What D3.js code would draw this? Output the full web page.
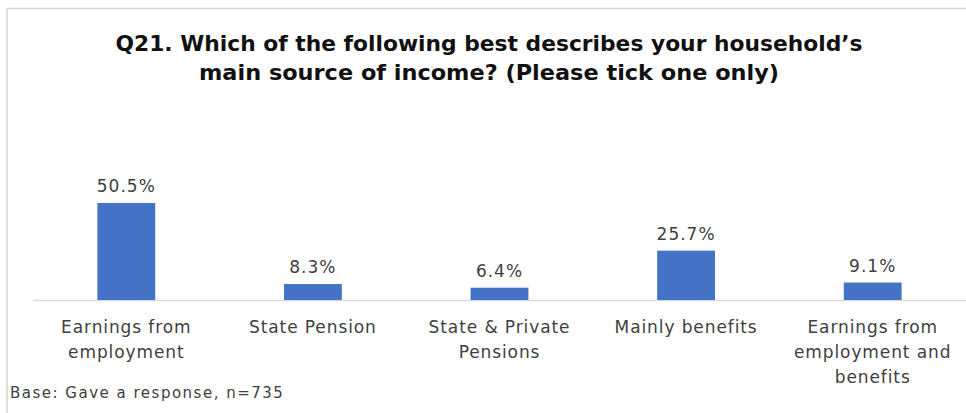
<!DOCTYPE html>
<html lang="en">
<head>
<meta charset="utf-8">
<title>Q21 household income</title>
<script src="https://cdn.jsdelivr.net/npm/d3@7"></script>
<style>
  body { margin: 0; background: #fff; }
  svg text { font-family: "DejaVu Sans", sans-serif; }
</style>
</head>
<body>
<script>
// chart data
var categories = [
  ["Earnings from", "employment"],
  ["State Pension"],
  ["State & Private", "Pensions"],
  ["Mainly benefits"],
  ["Earnings from", "employment and", "benefits"]
];
var values = [50.5, 8.3, 6.4, 25.7, 9.1];
var titleLines = [
  "Q21.  Which of the following best describes your household\u2019s",
  "main source of income? (Please tick one only)"
];
var titleWidths = [747, 580];
var baseNote = "Base: Gave a response, n=735";

var width = 966, height = 413;
var svg = d3.select("body").append("svg")
  .attr("width", width)
  .attr("height", height);

// frame of the slide
svg.append("path")
  .attr("d", "M7," + height + "V8.5H" + width)
  .attr("fill", "none")
  .attr("stroke", "#d9d9d9")
  .attr("stroke-width", 1.5);

// title
svg.append("g").selectAll("text")
  .data(titleLines)
  .enter().append("text")
  .attr("x", 489)
  .attr("y", function(d, i) { return 51 + i * 29; })
  .attr("text-anchor", "middle")
  .attr("font-size", 22)
  .attr("font-weight", "bold")
  .attr("fill", "#111")
  .attr("textLength", function(d, i) { return titleWidths[i]; })
  .attr("lengthAdjust", "spacingAndGlyphs")
  .text(function(d) { return d; });

var x = d3.scaleBand()
  .domain(d3.range(values.length))
  .range([33, 966])
  .paddingInner(0.69)
  .paddingOuter(0.345);

var y = d3.scaleLinear()
  .domain([0, 50.5])
  .range([300, 203]);

// baseline
svg.append("line")
  .attr("x1", 33).attr("x2", width)
  .attr("y1", 300.5).attr("y2", 300.5)
  .attr("stroke", "#d9d9d9")
  .attr("stroke-width", 1.5);

svg.append("g").selectAll("rect")
  .data(values)
  .enter().append("rect")
  .attr("x", function(d, i) { return x(i); })
  .attr("width", x.bandwidth())
  .attr("y", function(d) { return y(d); })
  .attr("height", function(d) { return y(0) - y(d); })
  .attr("fill", "#4472c4");

// value labels
svg.append("g").selectAll("text")
  .data(values)
  .enter().append("text")
  .attr("x", function(d, i) { return x(i) + x.bandwidth() / 2; })
  .attr("y", function(d) { return y(d) - 11; })
  .attr("text-anchor", "middle")
  .attr("font-size", 17)
  .attr("letter-spacing", 1)
  .attr("fill", "#404040")
  .text(function(d) { return d.toFixed(1) + "%"; });

// category labels
var cat = svg.append("g").selectAll("text")
  .data(categories)
  .enter().append("text")
  .attr("text-anchor", "middle")
  .attr("font-size", 17)
  .attr("letter-spacing", 0.9)
  .attr("fill", "#404040");

cat.selectAll("tspan")
  .data(function(d, i) { return d.map(function(s) { return { s: s, i: i }; }); })
  .enter().append("tspan")
  .attr("x", function(d) { return x(d.i) + x.bandwidth() / 2; })
  .attr("y", function(d, j) { return 333 + j * 25; })
  .text(function(d) { return d.s; });

svg.append("text")
  .attr("x", 10)
  .attr("y", 398)
  .attr("font-size", 15)
  .attr("letter-spacing", 1.5)
  .attr("fill", "#404040")
  .text(baseNote);
</script>
</body>
</html>
